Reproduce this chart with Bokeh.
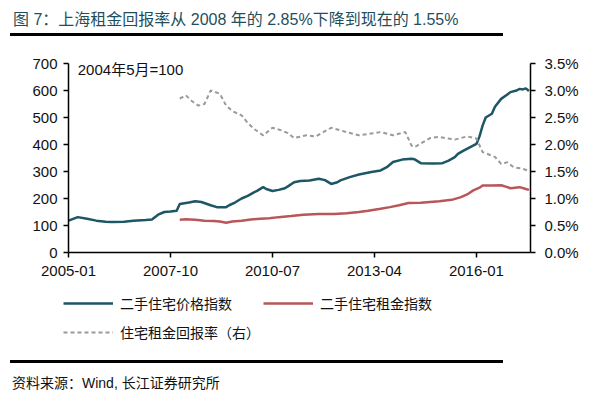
from bokeh.plotting import figure
from bokeh.models import (LinearAxis, Range1d, Label, Legend, LegendItem,
                          FixedTicker, Div)
from bokeh.layouts import column
from bokeh.embed import file_html
from bokeh.resources import INLINE

# ---- data ----
price_dates = ["2005-01","2005-04","2005-07","2005-10","2006-01","2006-03","2006-07","2006-10",
               "2007-02","2007-04","2007-06","2007-08","2007-10","2007-12","2008-01","2008-04",
               "2008-06","2008-08","2008-11","2009-01","2009-04","2009-05","2009-07","2009-09",
               "2009-11","2010-01","2010-02","2010-04","2010-05","2010-07","2010-09","2010-11",
               "2010-12","2011-02","2011-04","2011-07","2011-10","2011-12","2012-02","2012-04",
               "2012-05","2012-08","2012-11","2013-03","2013-06","2013-08","2013-10","2014-01",
               "2014-04","2014-05","2014-07","2014-11","2015-02","2015-04","2015-06","2015-07",
               "2015-09","2015-11","2016-01","2016-02","2016-03","2016-04","2016-06","2016-07",
               "2016-09","2016-11","2016-12","2017-02","2017-03","2017-04","2017-05","2017-06"]
price_index = [118,131,125,118,114,113,114,118,
               120,122,140,150,152,155,180,185,
               190,187,175,168,168,175,186,200,
               210,223,228,242,235,228,232,238,
               245,260,265,267,273,268,254,260,
               267,279,289,298,304,316,335,344,
               347,345,331,330,331,340,353,365,
               378,390,402,430,470,500,514,540,
               569,585,594,600,606,604,608,598]

rent_dates = ["2008-01","2008-03","2008-06","2008-09","2008-12","2009-02","2009-04","2009-06",
              "2009-09","2009-12","2010-03","2010-06","2010-09","2011-01","2011-05","2011-10",
              "2012-03","2012-07","2012-11","2013-02","2013-06","2013-09","2013-12","2014-03",
              "2014-07","2014-10","2015-01","2015-05","2015-08","2015-10","2015-12","2016-02",
              "2016-03","2016-06","2016-09","2016-11","2016-12","2017-03","2017-05","2017-06"]
rent_index = [121,123,121,118,117,115,110,115,
              118,122,125,127,131,135,140,143,
              143,145,150,155,162,168,175,183,
              184,187,190,195,205,215,230,240,
              248,248,249,242,238,242,235,232]

yield_dates = ["2008-01","2008-03","2008-05","2008-07","2008-09","2008-11","2009-02","2009-04",
               "2009-06","2009-09","2009-11","2010-01","2010-04","2010-07","2010-10","2010-12",
               "2011-02","2011-06","2011-09","2012-02","2012-07","2012-11","2013-06","2013-10",
               "2014-02","2014-04","2014-05","2014-10","2015-01","2015-06","2015-10","2016-01",
               "2016-03","2016-07","2016-09","2016-11","2017-01","2017-04","2017-06"]
rent_yield = [2.85,2.91,2.80,2.72,2.75,3.00,2.94,2.72,
              2.62,2.54,2.40,2.29,2.17,2.31,2.26,2.21,
              2.12,2.17,2.15,2.31,2.23,2.17,2.23,2.17,
              2.23,1.98,1.95,2.12,2.14,2.09,2.15,2.11,
              1.86,1.77,1.64,1.67,1.58,1.55,1.51]

tick_labels = ["2005-01", "2007-10", "2010-07", "2013-04", "2016-01"]
left_ticks = [0, 100, 200, 300, 400, 500, 600, 700]
right_ticks = [0.0, 0.5, 1.0, 1.5, 2.0, 2.5, 3.0, 3.5]
x_end = 149.5            # months after 2005-01 where the plot ends
left_max, right_max = 700, 3.5

title_text = "图 7：上海租金回报率从 2008 年的 2.85%下降到现在的 1.55%"
source_text = "资料来源：Wind, 长江证券研究所"
note_text = "2004年5月=100"
names = ["二手住宅价格指数", "二手住宅租金指数", "住宅租金回报率（右）"]


def midx(s):
    y, m = s.split("-")
    return (int(y) - 2005) * 12 + int(m) - 1


FONT = "Liberation Sans, Noto Sans CJK SC"
CSSFONT = "'Liberation Sans', 'Noto Sans CJK SC', sans-serif"
TEAL = "#1d5664"
RED = "#b9565a"
GRAY = "#9a9a9a"

# canvas geometry (pixels): figure spans W x H; axes box inside it
W, H = 600, 320
AX_L, AX_R, AX_T, AX_B = 68, 530, 23, 212   # axes box inside figure
xs = (AX_R - AX_L) / x_end
ys_l = (AX_B - AX_T) / left_max
ys_r = (AX_B - AX_T) / right_max

title_div = Div(
    width=600, height=40, margin=0,
    text=(f'<div style="margin-left:10px;width:493px;height:36px;border-bottom:3px solid #000;'
          f'font-family:{CSSFONT};font-size:16px;line-height:20px;padding-top:10px;'
          f'padding-left:3px;box-sizing:border-box;color:#1f4f5c;white-space:nowrap;">'
          f'{title_text}</div>'))

p = figure(frame_width=W, frame_height=H, output_backend="svg", toolbar_location=None,
           x_range=Range1d(-AX_L / xs, (W - AX_L) / xs),
           y_range=Range1d(-(H - AX_B) / ys_l, AX_B / ys_l),
           min_border=0, margin=0)
p.outline_line_color = None
p.grid.visible = False

p.extra_y_ranges = {"pct": Range1d(-(H - AX_B) / ys_r, AX_B / ys_r)}

r1 = p.line([midx(d) for d in price_dates], price_index, line_color=TEAL, line_width=2.5)
r2 = p.line([midx(d) for d in rent_dates], rent_index, line_color=RED, line_width=2.5)
r3 = p.line([midx(d) for d in yield_dates], rent_yield, line_color=GRAY, line_width=2,
            line_dash="4 3", y_range_name="pct")


def style_axis(ax):
    ax.axis_line_color = "black"
    ax.axis_line_width = 1.5
    ax.major_tick_line_color = "black"
    ax.major_tick_line_width = 1.5
    ax.major_tick_out = 5
    ax.major_tick_in = 0
    ax.minor_tick_line_color = None
    ax.major_label_text_font = FONT
    ax.major_label_text_font_size = "15px"
    ax.major_label_text_color = "#111111"


xa = p.xaxis[0]
xa.ticker = FixedTicker(ticks=[midx(t) for t in tick_labels])
xa.major_label_overrides = {midx(t): t for t in tick_labels}
xa.major_label_standoff = 8
xa.fixed_location = 0
xa.bounds = (0, x_end)
style_axis(xa)

ya = p.yaxis[0]
ya.ticker = FixedTicker(ticks=left_ticks)
ya.major_label_standoff = 6
ya.fixed_location = 0
ya.bounds = (0, left_max)
style_axis(ya)

ra = LinearAxis(y_range_name="pct", ticker=FixedTicker(ticks=right_ticks),
                fixed_location=x_end, bounds=(0, right_max))
ra.major_label_overrides = {v: f"{v:.1f}%" for v in right_ticks}
ra.major_label_standoff = 9
style_axis(ra)
p.add_layout(ra, "right")

p.add_layout(Label(x=3, y=678, text=note_text, text_font=FONT, text_font_size="15px",
                   text_color="#111111", text_baseline="middle"))


def mk_legend(items, loc):
    return Legend(items=items, location=loc, orientation="horizontal",
                  glyph_width=50, glyph_height=16, label_standoff=7, spacing=31,
                  padding=0, margin=0, border_line_alpha=0, background_fill_alpha=0,
                  label_text_font=FONT, label_text_font_size="14px",
                  label_text_color="#111111")


p.add_layout(mk_legend([LegendItem(label=names[0], renderers=[r1]),
                        LegendItem(label=names[1], renderers=[r2])], (63, 47.5)), "center")
p.add_layout(mk_legend([LegendItem(label=names[2], renderers=[r3])], (63, 18.5)), "center")

source_div = Div(
    width=600, height=36, margin=0,
    text=(f'<div style="margin-left:10px;width:493px;height:34px;border-top:3px solid #000;'
          f'font-family:{CSSFONT};font-size:14px;line-height:20px;padding-top:10px;'
          f'padding-left:2px;box-sizing:border-box;color:#111;white-space:nowrap;">'
          f'{source_text}</div>'))

layout = column(title_div, p, source_div, spacing=0)

open("out.html", "w").write(file_html(layout, INLINE))
